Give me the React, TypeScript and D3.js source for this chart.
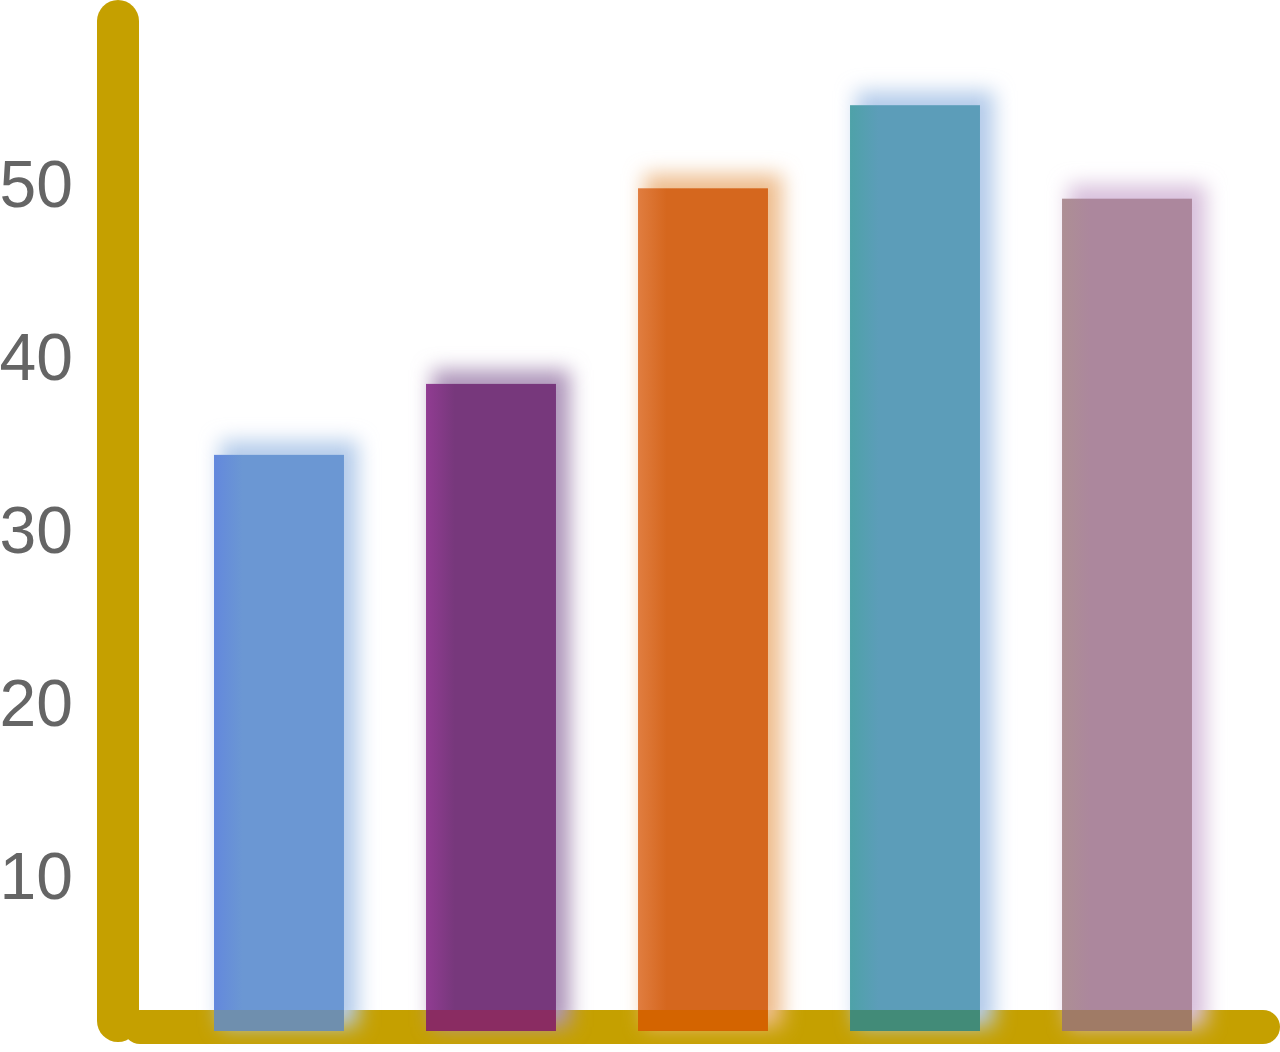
import React from "react";
import * as d3 from "d3";

const categories = ["A", "B", "C", "D", "E"];
const values = [34.3, 38.4, 49.7, 54.5, 49.1];
const tickValues = [10, 20, 30, 40, 50];
const mainColors = ["#6b97d3", "#77387c", "#d5671e", "#5c9db9", "#ac879d"];
const edgeColors = ["#6388dd", "#913c92", "#e07d40", "#4ea2a8", "#ad8f94"];
const glowColors = ["#b3cbea", "#ad94b9", "#eebd8e", "#b3cbea", "#d8c0dc"];
const overlapColors = ["#6f8fae", "#8a2c62", "#d46400", "#428b78", "#a07b66"];

const W = 1280;
const H = 1052;
const AXIS_COLOR = "#c5a000";

export default function App() {
  const x = d3
    .scaleBand<string>()
    .domain(categories)
    .range([143, 1263])
    .paddingInner(0.387)
    .paddingOuter(0.335);
  const y = d3.scaleLinear().domain([0, 60]).range([1048.6, 10]);

  const axisX = 118;
  const axisY = 1027;
  const baseline = 1031;
  const overlapTop = 1010;

  return (
    <svg
      width={W}
      height={H}
      viewBox={`0 0 ${W} ${H}`}
      style={{ position: "absolute", left: 0, top: 0, background: "#fff" }}
    >
      <defs>
        <filter id="glow" x="-50%" y="-20%" width="200%" height="140%">
          <feGaussianBlur stdDeviation="10" />
        </filter>
        {categories.map((c, i) => (
          <linearGradient key={c} id={`grad-${i}`} x1="0" x2="1" y1="0" y2="0">
            <stop offset="0" stopColor={edgeColors[i]} />
            <stop offset="0.22" stopColor={mainColors[i]} />
            <stop offset="1" stopColor={mainColors[i]} />
          </linearGradient>
        ))}
      </defs>

      {/* axes */}
      <line
        x1={140}
        x2={1263}
        y1={axisY}
        y2={axisY}
        stroke={AXIS_COLOR}
        strokeWidth={34}
        strokeLinecap="round"
      />
      <line
        x1={axisX}
        x2={axisX}
        y1={21}
        y2={1021}
        stroke={AXIS_COLOR}
        strokeWidth={42}
        strokeLinecap="round"
      />

      {/* glows */}
      {categories.map((c, i) => {
        const bx = x(c)!;
        const top = y(values[i]);
        return (
          <rect
            key={`g-${c}`}
            x={bx + 6}
            y={top - 14}
            width={x.bandwidth() + 8}
            height={baseline - top + 10}
            fill={glowColors[i]}
            filter="url(#glow)"
          />
        );
      })}

      {/* bars */}
      {categories.map((c, i) => {
        const bx = x(c)!;
        const top = y(values[i]);
        return (
          <g key={`b-${c}`}>
            <rect
              x={bx}
              y={top}
              width={x.bandwidth()}
              height={overlapTop - top}
              fill={`url(#grad-${i})`}
            />
            <rect
              x={bx}
              y={overlapTop}
              width={x.bandwidth()}
              height={baseline - overlapTop}
              fill={overlapColors[i]}
            />
          </g>
        );
      })}

      {/* tick labels */}
      {tickValues.map((t) => (
        <text
          key={t}
          x={73}
          y={y(t)}
          dy="0.358em"
          textAnchor="end"
          fontFamily="'Liberation Sans', Arial, sans-serif"
          fontSize={66}
          fill="#656565"
        >
          {t}
        </text>
      ))}
    </svg>
  );
}
